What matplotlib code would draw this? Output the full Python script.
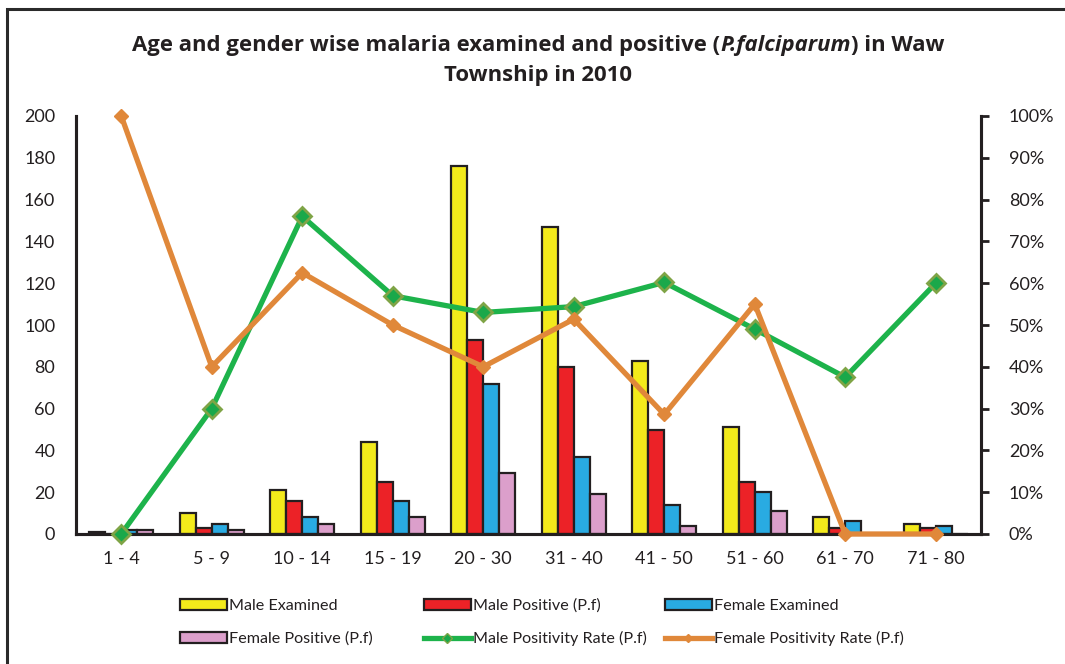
import matplotlib
matplotlib.use("Agg")
import matplotlib.pyplot as plt
import numpy as np
from matplotlib.patches import Patch, Rectangle
from matplotlib.lines import Line2D
from matplotlib.ticker import PercentFormatter

plt.rcParams['font.family'] = ['Lato', 'DejaVu Sans']

categories = ["1 - 4", "5 - 9", "10 - 14", "15 - 19", "20 - 30", "31 - 40",
              "41 - 50", "51 - 60", "61 - 70", "71 - 80"]
male_examined = [1, 10, 21, 44, 176, 147, 83, 51, 8, 5]
male_positive = [0, 3, 16, 25, 93, 80, 50, 25, 3, 3]
female_examined = [2, 5, 8, 16, 72, 37, 14, 20, 6, 4]
female_positive = [2, 2, 5, 8, 29, 19, 4, 11, 0, 0]
male_rate = [0, 30, 76, 57, 53, 54.4, 60.2, 49, 37.5, 60]
female_rate = [100, 40, 62.5, 50, 40, 51.4, 28.6, 55, 0, 0]

W, H = 1065, 664
fig = plt.figure(figsize=(W / 100, H / 100), dpi=100)
TXT = '#231f20'

def fx(px):
    return px / W

def fy(py):
    return 1 - py / H

ax = fig.add_axes([fx(76), fy(534), fx(981) - fx(76), fy(116) - fy(534)])
ax2 = ax.twinx()

colors = ['#f3ea1b', '#ec2227', '#29abe2', '#dc9fcb']
series = [male_examined, male_positive, female_examined, female_positive]
labels = ["Male Examined", "Male Positive (P.f)", "Female Examined", "Female Positive (P.f)"]
x = np.arange(len(categories))
bw = 0.176
for i, (vals, c) in enumerate(zip(series, colors)):
    ax.bar(x + (i - 1.5) * bw, vals, width=bw, color=c, edgecolor=TXT,
           linewidth=1.6, zorder=2)

ax.set_xlim(-0.5, len(categories) - 0.5)
ax.set_ylim(0, 200)
ax.set_yticks(np.arange(0, 201, 20))
ax.set_xticks(x)
ax.set_xticklabels(categories)
ax.tick_params(axis='both', length=0, labelsize=13, colors=TXT)
ax.tick_params(axis='y', pad=15)
ax.tick_params(axis='x', pad=12)

green = '#1db34b'
orange = '#e0883a'
ax2.plot(x, male_rate, color=green, lw=3.8, marker='D', ms=9,
         markerfacecolor='#1aa84a', markeredgecolor='#7fa446', markeredgewidth=2,
         zorder=3, clip_on=False)
ax2.plot(x, female_rate, color=orange, lw=3.8, marker='D', ms=7,
         markerfacecolor=orange, markeredgecolor=orange, zorder=4, clip_on=False)
ax2.set_ylim(0, 100)
ax2.set_yticks(np.arange(0, 101, 10))
ax2.yaxis.set_major_formatter(PercentFormatter(decimals=0))
ax2.tick_params(axis='y', length=6, width=2, direction='out', labelsize=13,
                colors=TXT, pad=14)
ax2.set_zorder(ax.get_zorder() + 1)
ax2.patch.set_visible(False)

for a in (ax, ax2):
    a.spines['top'].set_visible(False)
    for s in ('left', 'right', 'bottom'):
        a.spines[s].set_linewidth(2.2)
        a.spines[s].set_color(TXT)

# Title with italic part
fig.canvas.draw()
r = fig.canvas.get_renderer()
parts = [("Age and gender wise malaria examined and positive (", 'normal'),
         ("P.falciparum", 'italic'),
         (") in Waw", 'normal')]
tfam = ['Open Sans', 'Lato', 'DejaVu Sans']
tsize = 15
texts = []
for s, st in parts:
    t = fig.text(0, fy(51), s, fontsize=tsize, fontweight='bold', style=st,
                 family=tfam, color=TXT, ha='left', va='baseline')
    texts.append(t)
widths = [t.get_window_extent(r).width for t in texts]
total = sum(widths)
target = 810
if total > 0:
    scale = target / total
    tsize = tsize * scale
    for t in texts:
        t.set_fontsize(tsize)
    widths = [t.get_window_extent(r).width for t in texts]
    total = sum(widths)
cx = 538
xs = cx - total / 2
for t, w in zip(texts, widths):
    t.set_x(fx(xs))
    xs += w
fig.text(fx(cx), fy(81), "Township in 2010", fontsize=tsize, fontweight='bold',
         family=tfam, color=TXT, ha='center', va='baseline')

# Legends: three columns
def bar_handle(c):
    return Patch(facecolor=c, edgecolor=TXT, linewidth=1.6)

col_handles = [
    ([bar_handle(colors[0]), bar_handle(colors[3])], [labels[0], labels[3]], 180),
    ([bar_handle(colors[1]),
      Line2D([], [], color=green, lw=3.8, marker='D', ms=5, markerfacecolor='#1aa84a',
             markeredgecolor='#7fa446')], [labels[1], "Male Positivity Rate (P.f)"], 424),
    ([bar_handle(colors[2]),
      Line2D([], [], color=orange, lw=3.8, marker='D', ms=4, markerfacecolor=orange,
             markeredgecolor=orange)], [labels[2], "Female Positivity Rate (P.f)"], 665),
]
for hs, ls, xl in col_handles:
    leg = fig.legend(hs, ls, loc='center left', bbox_to_anchor=(fx(xl), fy(622.5)),
                     frameon=False, fontsize=11.6, handlelength=2.9, handleheight=0.7,
                     handletextpad=0.15, labelspacing=1.12, borderpad=0, borderaxespad=0)
    for t in leg.get_texts():
        t.set_color(TXT)

# Outer frame
fig.patches.append(Rectangle((fx(7), fy(680)), fx(1080) - fx(7), fy(9) - fy(680),
                             transform=fig.transFigure, fill=False, edgecolor='#2a2a2a',
                             linewidth=2.2, clip_on=False))

fig.savefig("out.png", dpi=100)
